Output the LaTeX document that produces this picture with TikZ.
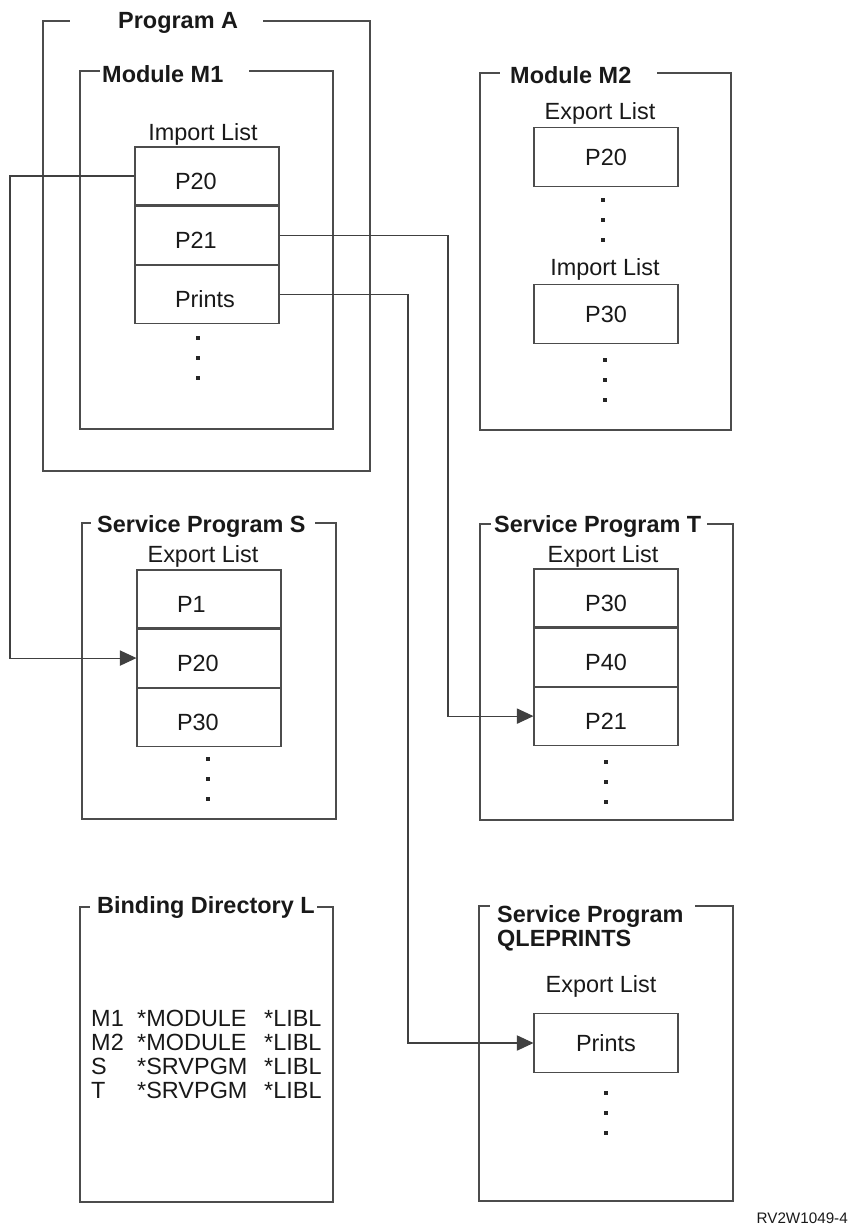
\documentclass[tikz,border=0pt]{standalone}
\usepackage{fontspec}
\setmainfont{Liberation Sans}
\usetikzlibrary{positioning,arrows.meta}
\newcommand{\listdots}[2]{\foreach \dy in {0,20,40}{\fill[black!85] ({#1-2},{#2+\dy-2}) rectangle ++(4,4);}}
\begin{document}
\begin{tikzpicture}[x=0.03cm, y=-0.03cm, font=\fontsize{20}{20.4}\selectfont,frame/.style={draw=black!70, line width=0.9pt},title node/.style={font=\fontsize{20}{20.4}\selectfont\bfseries, text=black!90, inner sep=0pt, anchor=base west},list label/.style={text=black!90, inner sep=0pt, anchor=base},stack cell/.style={draw=black!70, line width=0.9pt, minimum width=4.32cm, minimum height=1.74cm, text height=0.81cm, text depth=0pt, inner sep=0pt, text=black!90},left cell/.style={stack cell, inner xsep=1.2cm, text width=1.92cm, align=left},single cell/.style={draw=black!70, line width=0.9pt, minimum width=4.32cm, minimum height=1.77cm, inner sep=0pt, text=black!90},link/.style={draw=black!75, line width=0.9pt, -{Triangle[length=0.5cm,width=0.46cm]}}]%
\path[use as bounding box] (0,0) rectangle (850,1228);%
  % Program A%
\draw[frame] (263,21) -- (370,21) -- (370,471) -- (43,471) -- (43,21) -- (70,21);%
\node[title node] (progA) at (118,28) {Program A};%
  % Module M1%
\draw[frame] (249,71) -- (333,71) -- (333,429) -- (80,429) -- (80,71) -- (100,71);%
\node[title node] (modM1) at (102,82) {Module M1};%
\node[list label] (m1imp) at (203,140) {Import List};%
\node[left cell] (m1p20) at (207,176) {P20};%
\node[left cell, below=0pt of m1p20] (m1p21) {P21};%
\node[left cell, below=0pt of m1p21] (m1prints) {Prints};%
\listdots{198}{338}%
  % Module M2%
\draw[frame] (657,73) -- (731,73) -- (731,430) -- (480,430) -- (480,73) -- (500,73);%
\node[title node] (modM2) at (510,83) {Module M2};%
\node[list label] (m2exp) at (600,119) {Export List};%
\node[single cell] (m2p20) at (606,157) {P20};%
\listdots{603}{200}%
\node[list label] (m2imp) at (605,275) {Import List};%
\node[single cell] (m2p30) at (606,314) {P30};%
\listdots{605}{360}%
  % Service Program S%
\draw[frame] (315,523) -- (336,523) -- (336,819) -- (82,819) -- (82,523) -- (91,523);%
\node[title node] (srvS) at (97,532) {Service Program S};%
\node[list label] (sexp) at (203,562) {Export List};%
\node[left cell] (sp1) at (209,599) {P1};%
\node[left cell, below=0pt of sp1] (sp20) {P20};%
\node[left cell, below=0pt of sp20] (sp30) {P30};%
\listdots{208}{759}%
  % Service Program T%
\draw[frame] (707,524) -- (733,524) -- (733,820) -- (480,820) -- (480,524) -- (491,524);%
\node[title node] (srvT) at (494,532) {Service Program T};%
\node[list label] (texp) at (603,562) {Export List};%
\node[stack cell] (tp30) at (606,598) {P30};%
\node[stack cell, below=0pt of tp30] (tp40) {P40};%
\node[stack cell, below=0pt of tp40] (tp21) {P21};%
\listdots{606}{762}%
  % Binding Directory L%
\draw[frame] (317,907) -- (333,907) -- (333,1202) -- (80,1202) -- (80,907) -- (90,907);%
\node[title node] (binddir) at (97,913) {Binding Directory L};%
\node[anchor=north west, inner sep=0pt, align=left, text=black!90] (bindlist) at (91,1010) {\makebox[1.38cm][l]{M1}\makebox[3.81cm][l]{*MODULE}*LIBL\\ \makebox[1.38cm][l]{M2}\makebox[3.81cm][l]{*MODULE}*LIBL\\ \makebox[1.38cm][l]{S}\makebox[3.81cm][l]{*SRVPGM}*LIBL\\ \makebox[1.38cm][l]{T}\makebox[3.81cm][l]{*SRVPGM}*LIBL};%
  % Service Program QLEPRINTS%
\draw[frame] (695,906) -- (733,906) -- (733,1201) -- (479,1201) -- (479,906) -- (490,906);%
\node[title node, anchor=north west, align=left] (srvQ) at (497,905) {Service Program\\ QLEPRINTS};%
\node[list label] (qexp) at (601,992) {Export List};%
\node[single cell] (qprints) at (606,1043) {Prints};%
\listdots{606}{1093}%
  % imports resolved%
\coordinate (busS) at (10,400);%
\coordinate (busT) at (448,400);%
\coordinate (busQ) at (408,400);%
\draw[link] (m1p20.west) -| (busS) |- (sp20.west);%
\draw[link] (m1p21.east) -| (busT) |- (tp21.west);%
\draw[link] (m1prints.east) -| (busQ) |- (qprints.west);%
\node[anchor=base east, inner sep=0pt, font=\fontsize{13}{15}\selectfont, text=black!90] (figid) at (848,1223) {RV2W1049-4};%
\end{tikzpicture}
\end{document}
